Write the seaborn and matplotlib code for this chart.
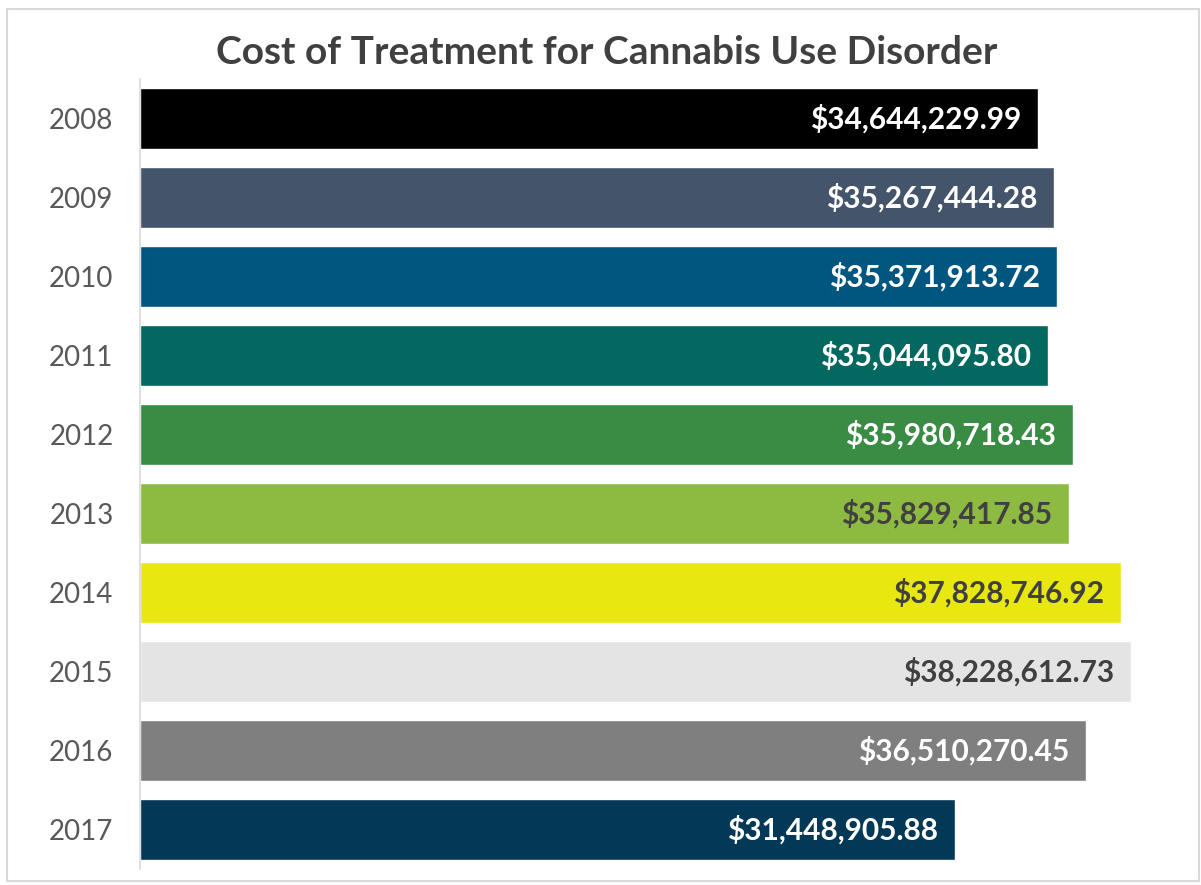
import matplotlib
matplotlib.use("Agg")
import matplotlib.pyplot as plt
import pandas as pd
import seaborn as sns
from matplotlib.patches import Rectangle
from matplotlib.ticker import FixedLocator

years = ["2008", "2009", "2010", "2011", "2012", "2013", "2014", "2015", "2016", "2017"]
costs = [34644229.99, 35267444.28, 35371913.72, 35044095.80, 35980718.43,
         35829417.85, 37828746.92, 38228612.73, 36510270.45, 31448905.88]
bar_colors = ["#000000", "#44546A", "#00567F", "#03685F", "#3A8B44",
              "#8DBB41", "#E9E710", "#E4E4E4", "#7F7F7F", "#033856"]
label_colors = ["white", "white", "white", "white", "white",
                "#404040", "#404040", "#404040", "white", "white"]

sns.set_style("white")
plt.rcParams["font.family"] = ["Lato", "DejaVu Sans"]

df = pd.DataFrame({"year": years, "cost": costs})

fig = plt.figure(figsize=(12.01, 8.85), dpi=100)
ax = fig.add_axes([140 / 1201, 1 - 869 / 885, 1020 / 1201, 790 / 885])

sns.barplot(data=df, x="cost", y="year", hue="year", palette=bar_colors,
            orient="h", width=0.77, legend=False, saturation=1, ax=ax)

ax.set_xlim(0, 1020 / 991 * costs[7])
ax.set_ylim(len(years) - 0.5, -0.5)
ax.set_xlabel("")
ax.set_ylabel("")
ax.set_xticks([])

# value labels inside the bar end
for bar, val, col in zip(ax.patches, costs, label_colors):
    ax.annotate(f"${val:,.2f}", xy=(bar.get_width(), bar.get_y() + bar.get_height() / 2),
                xytext=(-17, 0), textcoords="offset pixels", ha="right", va="center",
                fontsize=21.5, fontweight="bold", color=col)

for side in ["top", "right", "bottom"]:
    ax.spines[side].set_visible(False)
ax.spines["left"].set_color("#d9d9d9")
ax.spines["left"].set_linewidth(1.2)

ax.tick_params(axis="y", which="major", length=0, labelsize=20, labelcolor="#595959", pad=19)
ax.yaxis.set_minor_locator(FixedLocator([i - 0.5 for i in range(len(years) + 1)]))
ax.tick_params(axis="y", which="minor", length=6, color="#d9d9d9", width=1.2)

fig.text(607 / 1201, 1 - 53 / 885, "Cost of Treatment for Cannabis Use Disorder",
         ha="center", va="center", fontsize=28, fontweight="bold", color="#404040")

fig.patches.append(Rectangle((7 / 1201, 1 - 881 / 885), 1192 / 1201, 872 / 885,
                             transform=fig.transFigure, fill=False,
                             edgecolor="#d9d9d9", linewidth=1.5))

fig.savefig("out.png", dpi=100)
